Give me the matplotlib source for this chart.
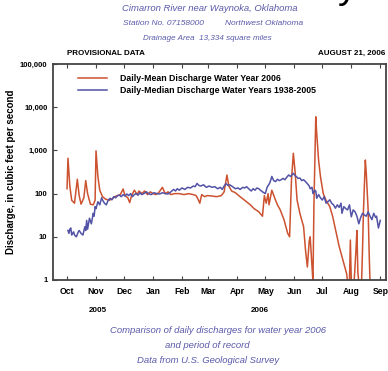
import matplotlib
matplotlib.use('Agg')
import matplotlib.pyplot as plt
import numpy as np
from datetime import datetime, timedelta

plt.rcParams['font.family'] = ['Liberation Sans', 'DejaVu Sans']

start = datetime(2005, 10, 1)

# daily-mean discharge, water year 2006 (day offset from Oct 1 2005, cfs)
mean_days = [0, 1, 3, 5, 8, 11, 13, 15, 18, 20, 22, 25, 28, 30, 31, 33, 35, 38, 41, 45,
             48, 51, 54, 57, 60, 62, 65, 67, 69, 72, 75, 77, 80, 83, 86, 89, 92, 95, 98, 102,
             105, 108, 111, 115, 120, 125, 130, 135, 138, 140, 142, 144, 147, 150, 155, 160, 165, 168, 171, 173,
             176, 180, 185, 190, 196, 200, 205, 209, 211, 213, 215, 216, 219, 222, 225, 228, 232, 236, 238, 240,
             242, 244, 246, 249, 253, 255, 257, 259, 260, 262, 263, 264, 266, 267, 269, 271, 274, 277, 281, 284,
             288, 291, 295, 299, 300, 302, 303, 304, 307, 309, 310, 311, 312, 315, 316, 317, 319, 320, 322, 323,
             324]
mean_q = [130, 660, 150, 70, 60, 215, 90, 57, 80, 200, 100, 57, 55, 70, 980, 250, 120, 85, 75, 70,
          75, 85, 90, 95, 128, 90, 80, 62, 90, 120, 95, 115, 100, 115, 95, 110, 100, 95, 105, 140,
          100, 110, 95, 100, 100, 95, 100, 95, 90, 75, 60, 95, 85, 90, 88, 85, 90, 110, 270, 150,
          115, 105, 85, 70, 55, 45, 38, 30, 90, 60, 100, 55, 120, 80, 55, 42, 25, 12, 10, 200,
          860, 300, 71, 35, 17, 5, 2, 8, 10, 2, 0.8, 50, 6000, 2500, 600, 250, 100, 70, 50, 30,
          12, 6, 2.9, 1.4, 0.8, 0.8, 8.4, 0.8, 0.8, 5, 14, 1.5, 0.8, 0.8, 5, 40, 600, 300, 42, 5,
          0.8]

# daily-median discharge, water years 1938-2005
median_days = [1, 2, 3, 4, 5, 7, 8, 10, 12, 13, 15, 17, 19, 20, 21, 22, 24, 26, 28, 29,
               30, 31, 33, 35, 37, 38, 40, 42, 44, 46, 48, 50, 52, 54, 56, 58, 60, 62, 64, 66,
               68, 70, 72, 74, 76, 78, 80, 82, 85, 87, 90, 93, 96, 99, 102, 105, 108, 111, 114, 116,
               118, 120, 123, 126, 129, 132, 135, 137, 139, 141, 143, 146, 149, 152, 155, 158, 161, 164, 166, 168,
               170, 172, 174, 177, 180, 183, 185, 188, 190, 192, 195, 197, 199, 201, 203, 205, 207, 209, 212, 214,
               217, 219, 221, 223, 225, 227, 229, 231, 233, 235, 237, 239, 242, 244, 246, 247, 249, 251, 253, 255,
               257, 259, 260, 262, 263, 265, 266, 267, 269, 271, 273, 275, 277, 279, 281, 283, 285, 287, 289, 291,
               293, 294, 296, 298, 300, 302, 304, 306, 308, 310, 312, 314, 316, 318, 320, 322, 324, 326, 328, 330,
               331, 333, 335]
median_q = [14, 12, 15, 16, 11, 13, 11, 10, 13, 14, 12, 11, 17, 14, 24, 15, 27, 20, 35, 30,
            50, 45, 65, 55, 80, 71, 60, 55, 70, 78, 72, 85, 80, 90, 92, 85, 95, 88, 98, 90,
            100, 85, 95, 100, 92, 105, 95, 100, 110, 100, 95, 105, 100, 98, 105, 100, 98, 110, 125, 115,
            130, 120, 135, 125, 140, 135, 150, 145, 172, 155, 150, 160, 140, 150, 140, 145, 130, 140, 125, 150,
            170, 155, 160, 145, 130, 135, 125, 140, 135, 145, 125, 115, 130, 120, 135, 130, 120, 110, 100, 140,
            180, 250, 200, 190, 215, 200, 210, 225, 210, 240, 270, 250, 295, 260, 240, 225, 230, 200, 210, 190,
            170, 150, 130, 140, 100, 120, 115, 78, 95, 80, 71, 85, 60, 65, 72, 60, 55, 46, 55, 48,
            60, 35, 50, 45, 42, 55, 29, 42, 38, 30, 20, 28, 35, 32, 30, 38, 30, 25, 35, 28,
            30, 16, 24]

months = ['Oct', 'Nov', 'Dec', 'Jan', 'Feb', 'Mar', 'Apr', 'May', 'Jun', 'Jul', 'Aug', 'Sep']
yticks = [1, 10, 100, 1000, 10000, 100000]
ylabels = ['1', '10', '100', '1,000', '10,000', '100,000']

red = '#cc5230'
blue = '#5252a6'
capcol = '#5a5aaa'

x_mean = [start + timedelta(days=d) for d in mean_days]
x_median = [start + timedelta(days=d) for d in median_days]

fig = plt.figure(figsize=(3.88, 3.71), dpi=100)
ax = fig.add_axes([0.1366, 0.2453, 0.858, 0.582])

ax.plot(x_mean, np.clip(mean_q, 0.9, None), color=red, lw=1.1,
        label='Daily-Mean Discharge Water Year 2006')
ax.plot(x_median, median_q, color=blue, lw=1.1,
        label='Daily-Median Discharge Water Years 1938-2005')

ax.set_yscale('log')
ax.set_ylim(1, 100000)
ax.set_yticks(yticks)
ax.set_yticklabels(ylabels, fontsize=5.5, fontweight='bold')
ax.yaxis.set_minor_locator(matplotlib.ticker.NullLocator())
ax.set_xlim(start - timedelta(days=15), start + timedelta(days=341))
ax.set_xticks([datetime(2005 + (m + 9 > 12), (m + 9 - 1) % 12 + 1, 1) for m in range(1, 13)])
ax.set_xticklabels(months, fontsize=6.2, fontweight='bold')
ax.tick_params(axis='x', direction='in', length=3, top=True, pad=5, color='#444444')
ax.tick_params(axis='y', direction='in', length=3, pad=4, color='#444444')
for s in ax.spines.values():
    s.set_color('#444444')
    s.set_linewidth(1.3)

ax.set_ylabel('Discharge, in cubic feet per second', fontsize=7, fontweight='bold', labelpad=3)

leg = ax.legend(loc='upper left', bbox_to_anchor=(0.065, 0.97), frameon=False,
                prop={'size': 6.3, 'weight': 'bold'}, handlelength=3.3, handletextpad=1.5,
                labelspacing=0.3, borderaxespad=0)

# header
fig.text(0.87, 1.005, 'y', fontsize=28, ha='left', va='baseline', color='black')
fig.text(0.54, 0.978, 'Cimarron River near Waynoka, Oklahoma', fontsize=6.8, style='italic',
         color=capcol, ha='center', va='center')
fig.text(0.42, 0.937, 'Station No. 07158000', fontsize=6, style='italic',
         color=capcol, ha='center', va='center')
fig.text(0.68, 0.937, 'Northwest Oklahoma', fontsize=6, style='italic',
         color=capcol, ha='center', va='center')
fig.text(0.535, 0.897, 'Drainage Area  13,334 square miles', fontsize=5.8, style='italic',
         color=capcol, ha='center', va='center')
fig.text(0.172, 0.857, 'PROVISIONAL DATA', fontsize=5.8, fontweight='bold', ha='left', va='center')
fig.text(0.993, 0.857, 'AUGUST 21, 2006', fontsize=5.8, fontweight='bold', ha='right', va='center')

# year labels
fig.text(0.253, 0.162, '2005', fontsize=5.8, fontweight='bold', ha='center', va='center')
fig.text(0.67, 0.162, '2006', fontsize=5.8, fontweight='bold', ha='center', va='center')

# captions
fig.text(0.562, 0.11, 'Comparison of daily discharges for water year 2006', fontsize=6.8,
         style='italic', color=capcol, ha='center', va='center')
fig.text(0.533, 0.07, 'and period of record', fontsize=6.8,
         style='italic', color=capcol, ha='center', va='center')
fig.text(0.536, 0.027, 'Data from U.S. Geological Survey', fontsize=6.8,
         style='italic', color=capcol, ha='center', va='center')

fig.savefig('out.png', dpi=100)
